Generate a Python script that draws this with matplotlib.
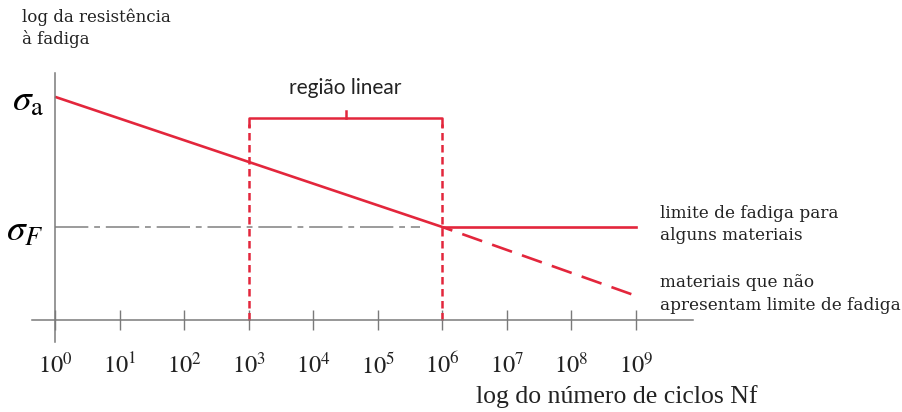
import matplotlib.pyplot as plt

plt.rcParams['mathtext.fontset'] = 'stix'

# log10 of cycles, tick positions and labels
cycle_exps = [0, 1, 2, 3, 4, 5, 6, 7, 8, 9]
cycle_labels = [r'$10^{%d}$' % e for e in cycle_exps]

# S-N curve (log stress in arbitrary units)
sn_exp = [0, 6]
sn_stress = [2.40, 1.0]
limit_exp = [6, 9]
limit_stress = [1.0, 1.0]
nolimit_exp = [6, 9]
nolimit_stress = [1.0, 0.26]
sigma_a = 2.40
sigma_f = 1.0

# linear region bracket
linear_start, linear_end = 3, 6
bracket_y = 2.17

red = '#e3263c'
grey = '#7a7a7a'
ink = '#222222'

fig = plt.figure(figsize=(9.03, 4.12), dpi=100)
ax = fig.add_axes([0, 0, 1, 1])
ax.set_xlim(-0.852, 13.135)
ax.set_ylim(-0.989, 3.441)

for s in ['top', 'right']:
    ax.spines[s].set_visible(False)
ax.spines['left'].set_position(('data', 0))
ax.spines['bottom'].set_position(('data', 0))
ax.spines['left'].set_bounds(-0.237, 2.656)
ax.spines['bottom'].set_bounds(-0.356, 9.88)
for s in ['left', 'bottom']:
    ax.spines[s].set_color(grey)
    ax.spines[s].set_linewidth(1.1)

ax.set_xticks(cycle_exps, cycle_labels)
ax.tick_params(axis='x', direction='inout', length=15, width=1.0, color=grey,
               labelsize=17.5, pad=16, labelcolor=ink)
ax.set_yticks([sigma_f, sigma_a], [r'$\sigma_F$', r'$\sigma_{\mathrm{a}}$'])
ax.tick_params(axis='y', length=0, labelsize=27, pad=8)

# reference line at fatigue limit
ax.plot([0, 5.65], [sigma_f, sigma_f], color='#8a8a8a', lw=1.2,
        linestyle=(0, (20, 3.5, 3.5, 3.5)))

ax.plot(sn_exp, sn_stress, color=red, lw=1.9, solid_capstyle='butt')
ax.plot(limit_exp, limit_stress, color=red, lw=1.9)
ax.plot(nolimit_exp, nolimit_stress, color=red, lw=1.9,
        linestyle=(4, (8, 4)))

# dashed verticals bounding the linear region
for x in [linear_start, linear_end]:
    ax.plot([x, x], [0, bracket_y - 0.06], color=red, lw=1.8,
            linestyle=(0, (3, 1.8)))

mid = (linear_start + linear_end) / 2
ax.plot([linear_start, linear_start, linear_end, linear_end],
        [bracket_y - 0.08, bracket_y, bracket_y, bracket_y - 0.08],
        color=red, lw=1.8)
ax.plot([mid, mid], [bracket_y, bracket_y + 0.08], color=red, lw=1.8)
ax.text(mid, 2.50, 'região linear', ha='center', va='center',
        family='Lato', fontsize=15, color=ink)

ax.text(9.37, 1.03, 'limite de fadiga para\nalguns materiais', ha='left',
        va='center', family='DejaVu Serif', fontsize=12.2, color=ink,
        linespacing=1.4)
ax.text(9.37, 0.28, 'materiais que não\napresentam limite de fadiga', ha='left',
        va='center', family='DejaVu Serif', fontsize=12.2, color=ink,
        linespacing=1.4)

ax.text(22 / 903, 1 - 8 / 412, 'log da resistência\nà fadiga',
        transform=ax.transAxes, ha='left', va='top', family='DejaVu Serif',
        fontsize=12, color=ink, linespacing=1.35)
ax.text(476 / 903, 1 - 397 / 412, 'log do número de ciclos Nf',
        transform=ax.transAxes, ha='left', va='center',
        family='Liberation Serif', fontsize=18.5, color=ink)

fig.savefig('out.png', dpi=100)
